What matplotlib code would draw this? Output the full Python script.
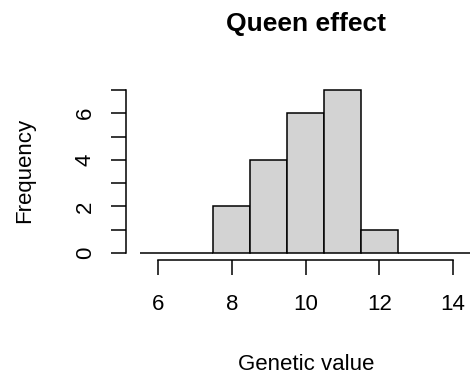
import matplotlib
matplotlib.use("Agg")
import matplotlib.pyplot as plt
import numpy as np

# Histogram of queen genetic values (bin counts, unit-width bins)
bin_edges = [5.5, 6.5, 7.5, 8.5, 9.5, 10.5, 11.5, 12.5, 13.5, 14.5]
counts = [0, 0, 2, 4, 6, 7, 1, 0, 0]
x_ticks = [6, 8, 10, 12, 14]
y_ticks = [0, 2, 4, 6]

plt.rcParams['font.family'] = ['Liberation Sans', 'DejaVu Sans']

W, H = 470, 378
fig = plt.figure(figsize=(W / 100, H / 100), dpi=100)

# Plot region in pixels (extends past the right edge of the figure)
left, right, top, bottom = 126.3, 484.7, 83.4, 259.5
ax = fig.add_axes([left / W, (H - bottom) / H, (right - left) / W, (bottom - top) / H])
ax.set_xlim(5.14, 14.86)
ax.set_ylim(-0.28, 7.28)

edges = np.array(bin_edges)
centers = (edges[:-1] + edges[1:]) / 2
widths = np.diff(edges)
ax.bar(centers, counts, width=widths, color='#D3D3D3', edgecolor='black',
       linewidth=1.1, clip_on=False)

for s in ['top', 'right']:
    ax.spines[s].set_visible(False)
ax.spines['left'].set_bounds(0, 7)
ax.spines['bottom'].set_bounds(6, 14)
for s in ['left', 'bottom']:
    ax.spines[s].set_linewidth(1.1)

ax.set_xticks(x_ticks)
ax.set_xticklabels([str(v) for v in x_ticks])
ax.set_yticks(range(0, 8))
ax.set_yticklabels([str(v) if v in y_ticks else '' for v in range(0, 8)],
                   rotation=90, va='center')
ax.tick_params(axis='both', direction='out', length=11, width=1.1,
               labelsize=16)
ax.tick_params(axis='x', pad=14)
ax.tick_params(axis='y', pad=11)

fig.text(306 / W, 1 - 23.5 / H, 'Queen effect', ha='center', va='center',
         fontsize=19, fontweight='bold')
fig.text(306 / W, 1 - 364 / H, 'Genetic value', ha='center', va='center',
         fontsize=16)
fig.text(25 / W, 1 - 170 / H, 'Frequency', ha='center', va='center',
         fontsize=16, rotation=90)

fig.savefig('out.png', dpi=100)
